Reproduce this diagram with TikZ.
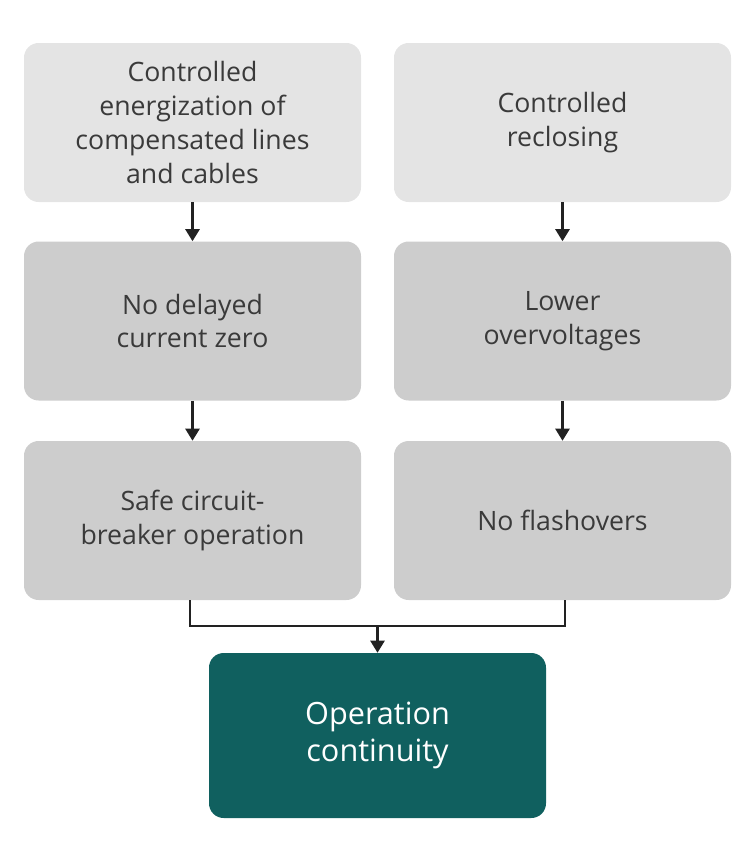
\documentclass[tikz,border=0pt]{standalone}
\usepackage{fontspec}
\setmainfont{Open Sans}
\usetikzlibrary{arrows.meta}
\definecolor{lightbox}{HTML}{E4E4E4}
\definecolor{midbox}{HTML}{CDCDCD}
\definecolor{tealbox}{HTML}{10605F}
\definecolor{txt}{HTML}{3A3A3A}
\definecolor{arrowc}{HTML}{222222}
\begin{document}
\begin{tikzpicture}[x=0.75pt,y=-0.75pt,
  box/.style={rectangle,rounded corners=11pt,minimum width=252.75pt,minimum height=119.25pt,inner sep=0pt,align=center,text=txt,font=\fontsize{20pt}{25.3pt}\selectfont},
  lbox/.style={box,fill=lightbox},
  mbox/.style={box,fill=midbox},
  tbox/.style={box,fill=tealbox,text=white,minimum height=123.75pt,font=\fontsize{23pt}{27.8pt}\selectfont},
  conn/.style={draw=arrowc,line width=1.8pt},
  arr/.style={conn,-{Triangle[width=10.5pt,length=9pt]}}]
\useasboundingbox (0,0) rectangle (756,860);
\node[lbox] (a1) at (192.5,122.5) {Controlled\\energization of\\compensated lines\\and cables};
\node[lbox] (b1) at (562.5,122.5) {Controlled\\reclosing};
\node[mbox] (a2) at (192.5,321) {No delayed\\current zero};
\node[mbox] (b2) at (562.5,321) {Lower\\overvoltages};
\node[mbox] (a3) at (192.5,520.5) {Safe circuit-\\breaker operation};
\node[mbox] (b3) at (562.5,520.5) {No flashovers};
\node[tbox] (c) at (377.5,735.5) {Operation\\continuity};
\draw[arr] (a1) -- (a2);
\draw[arr] (a2) -- (a3);
\draw[arr] (b1) -- (b2);
\draw[arr] (b2) -- (b3);
\coordinate (m) at (377.5,626);
\draw[conn] (a3.south -| 190,0) |- (m) -| (b3.south -| 565,0);
\draw[arr] (m) -- (c);
\end{tikzpicture}
\end{document}
